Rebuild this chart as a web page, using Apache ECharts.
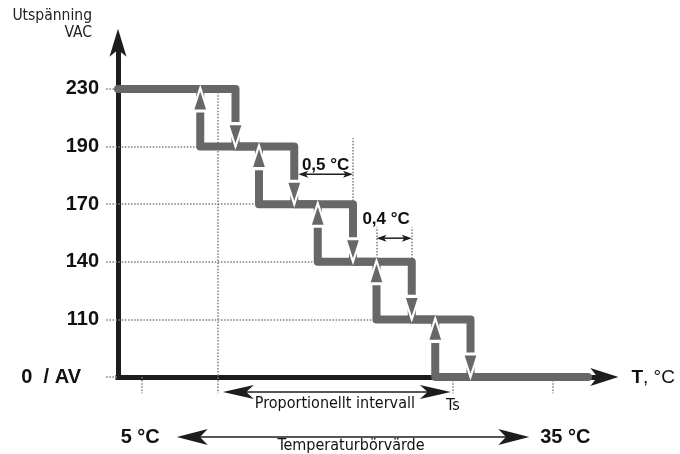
<!DOCTYPE html>
<html><head><meta charset="utf-8">
<script src="https://cdn.jsdelivr.net/npm/echarts@6/dist/echarts.min.js"></script>
<style>html,body{margin:0;padding:0;background:#fff}#c{width:680px;height:454px}</style>
</head><body><div id="c"></div>
<script>
// ---- data (schematic) ----
// Voltage levels, bottom to top, drawn as evenly spaced steps (level index 0..5)
const levelLabels = ['0 / AV', '110', '140', '170', '190', '230'];
// Temperature switch points (°C offsets from the axis origin)
const stepDownTemps = [1.0, 1.5, 2.0, 2.5, 3.0]; // rising temp: 230→190→170→140→110→0
const stepUpTemps   = [0.7, 1.2, 1.7, 2.2, 2.7]; // falling temp: 190→230, 170→190, ...
const lineEndTemp = 4.0;
const tickTemps = [0.2, 2.85, 3.7];
const propBandTemps = [0.85, 2.85];        // Proportionellt intervall ... Ts
const setpointRangeTemps = [0.5, 3.5];     // 5 °C ... 35 °C
const setpointLabels = ['5 °C', '35 °C'];
const dimLabels = ['0,5 °C', '0,4 °C'];
const axisTitles = ['Utspänning', 'VAC'];
const texts = { ts: 'Ts', prop: 'Proportionellt intervall', setp: 'Temperaturbörvärde' };

const C = { axis: '#1f1c1c', step: '#676767', guide: '#7c7c7c', text: '#111' };
const SANS = 'Liberation Sans, Arial, sans-serif';
const COND = 'DejaVu Sans Condensed, DejaVu Sans, sans-serif';
const X_MAX = 4.08, Y_MAX = 5.68;

// path while temperature rises (switching down)
const pathDown = [[0, 5]];
stepDownTemps.forEach((t, k) => { pathDown.push([t, 5 - k], [t, 4 - k]); });
pathDown.push([lineEndTemp, 0]);
// path while temperature falls (switching up)
const pathUp = [[lineEndTemp, 0]];
for (let k = 4; k >= 0; k--) pathUp.push([stepUpTemps[k], 4 - k], [stepUpTemps[k], 5 - k]);

const upArrows = stepUpTemps.map((t, k) => [t, 5 - k]);
const downArrows = stepDownTemps.map((t, k) => [t, 4 - k]);

// dotted guide lines
const guides = [];
for (let i = 0; i <= 5; i++) {
  const endX = (i >= 1 && i <= 4) ? stepUpTemps[4 - i] : 0;
  guides.push({ coords: [[-0.1, i], [endX, i]] });
}
guides.push({ coords: [[propBandTemps[0], 5], [propBandTemps[0], -0.28]] });
tickTemps.forEach(t => guides.push({ coords: [[t, 0], [t, -0.28]] }));
guides.push({ coords: [[stepDownTemps[2], 3], [stepDownTemps[2], 4.15]] });
guides.push({ coords: [[stepUpTemps[3], 2], [stepUpTemps[3], 2.6]] });
guides.push({ coords: [[stepDownTemps[3], 2], [stepDownTemps[3], 2.6]] });

const chart = echarts.init(document.getElementById('c'), null, { renderer: 'canvas' });
const axisLine = { show: true, onZero: true, symbol: 'none',
  lineStyle: { color: C.axis, width: 5, cap: 'square' } };
const option = {
  animation: false,
  backgroundColor: '#fff',
  grid: { left: 118, top: 49.8, right: 82.6, bottom: 77, containLabel: false, outerBoundsMode: 'none' },
  xAxis: { type: 'value', min: 0, max: X_MAX, axisLine, axisTick: { show: false },
    axisLabel: { show: false }, splitLine: { show: false } },
  yAxis: { type: 'value', min: 0, max: Y_MAX, interval: 1, axisLine,
    axisTick: { show: false }, splitLine: { show: false },
    axisLabel: { margin: 19, color: C.text, fontFamily: SANS, fontWeight: 'bold', fontSize: 20,
      formatter: v => {
        if (!Number.isInteger(v) || v > 5) return '';
        return v === 0 ? '{z|0  / AV}' : levelLabels[v];
      },
      rich: { z: { padding: [0, 18, 0, 0], color: C.text, fontFamily: SANS, fontWeight: 'bold', fontSize: 20 } } } },
  series: [
    { type: 'lines', coordinateSystem: 'cartesian2d', clip: false, silent: true, z: 1,
      lineStyle: { color: C.guide, width: 1.5, type: [1.5, 1.6], opacity: 1 }, data: guides },
    { type: 'line', data: pathUp, symbol: 'none', clip: false, z: 3,
      lineStyle: { color: C.step, width: 8, join: 'round', cap: 'butt' } },
    { type: 'line', data: pathDown, symbol: 'none', clip: false, z: 3,
      lineStyle: { color: C.step, width: 8, join: 'round', cap: 'round' } },
    { type: 'scatter', data: upArrows, symbol: 'triangle', symbolSize: [15, 23], symbolOffset: [0, 10.5], z: 4,
      itemStyle: { color: C.step, borderColor: '#fff', borderWidth: 2.5, opacity: 1 } },
    { type: 'scatter', data: downArrows, symbol: 'triangle', symbolSize: [15, 23], symbolRotate: 180, symbolOffset: [0, -11.5], z: 4,
      itemStyle: { color: C.step, borderColor: '#fff', borderWidth: 2.5, opacity: 1 } }
  ]
};
chart.setOption(option);

const p = (x, y) => chart.convertToPixel({ gridIndex: 0 }, [x, y]);
function head(tx, ty, dir, len, half) {
  return { type: 'polygon', silent: true, z: 10,
    shape: { points: [[tx, ty], [tx - dir * len, ty - half], [tx - dir * len * 0.75, ty], [tx - dir * len, ty + half]] },
    style: { fill: C.axis } };
}
function vhead(tx, ty, len, half) { // pointing up
  return { type: 'polygon', silent: true, z: 10,
    shape: { points: [[tx, ty], [tx + half, ty + len], [tx, ty + len * 0.75], [tx - half, ty + len]] },
    style: { fill: C.axis } };
}
function hline(x1, x2, y, w) {
  return { type: 'line', silent: true, z: 9, shape: { x1, y1: y, x2, y2: y }, style: { stroke: C.axis, lineWidth: w } };
}
function txt(text, x, y, align, font, extra) {
  return { type: 'text', silent: true, z: 10,
    style: Object.assign({ text, x, y, align, verticalAlign: 'middle', fill: C.text,
      fontFamily: font.family, fontSize: font.size, fontWeight: font.weight || 'normal' }, extra || {}) };
}
const basePt = p(0, 0);
const originX = basePt[0], axisY = basePt[1];
const topY = p(0, Y_MAX)[1];
const rightX = p(X_MAX, 0)[0];
const g = [];
const cond = { family: COND, size: 15.5 };
const cond2 = { family: COND, size: 16 };
const bold = { family: SANS, size: 20, weight: 'bold' };
// axis arrowheads
g.push(vhead(originX, topY - 21, 28, 8.5));
g.push(head(rightX + 21, axisY, 1, 28, 9));
// axis titles
g.push(txt(axisTitles[0], originX - 26, topY - 34, 'right', cond, { fill: '#222' }));
g.push(txt(axisTitles[1], originX - 26, topY - 17, 'right', cond, { fill: '#222' }));
g.push(txt('{b|T}, °C', rightX + 34, axisY + 1, 'left', { family: SANS, size: 19 },
  { rich: { b: { fontFamily: SANS, fontSize: 19, fontWeight: 'bold', fill: C.text } } }));
// Ts
g.push(txt(texts.ts, p(propBandTemps[1], 0)[0], axisY + 29, 'center', cond2));
// proportional band arrow
{
  const a = p(propBandTemps[0], 0)[0] + 5, b = p(propBandTemps[1], 0)[0] - 2, y = axisY + 15;
  g.push(hline(a + 10, b - 10, y, 1.5), head(a, y, -1, 31, 7), head(b, y, 1, 31, 7));
  g.push(txt(texts.prop, (a + b) / 2 - 2, axisY + 27, 'center', cond2));
}
// setpoint range arrow
{
  const a = p(setpointRangeTemps[0], 0)[0], b = p(setpointRangeTemps[1], 0)[0], y = axisY + 60;
  g.push(hline(a + 10, b - 10, y, 1.5), head(a, y, -1, 31, 8), head(b, y, 1, 31, 8));
  g.push(txt(texts.setp, (a + b) / 2 - 2, axisY + 69, 'center', cond2));
  g.push(txt(setpointLabels[0], a - 17, y, 'right', bold));
  g.push(txt(setpointLabels[1], b + 11, y, 'left', bold));
}
// dimension 0,5 °C
{
  const a = p(stepDownTemps[1], 0)[0] + 4, b = p(stepDownTemps[2], 0)[0], y = p(0, 3.52)[1];
  g.push(hline(a + 6, b - 6, y, 1.5), head(a, y, -1, 10, 3.5), head(b, y, 1, 10, 3.5));
  g.push(txt(dimLabels[0], (a + b) / 2, p(0, 3.68)[1], 'center', { family: SANS, size: 17, weight: 'bold' }));
}
// dimension 0,4 °C
{
  const a = p(stepUpTemps[3], 0)[0], b = p(stepDownTemps[3], 0)[0], y = p(0, 2.41)[1];
  g.push(hline(a + 6, b - 6, y, 1.5), head(a, y, -1, 10, 3.5), head(b, y, 1, 10, 3.5));
  g.push(txt(dimLabels[1], (a + b) / 2 - 8, p(0, 2.73)[1], 'center', { family: SANS, size: 17, weight: 'bold' }));
}
chart.setOption({ graphic: g });
</script></body></html>
